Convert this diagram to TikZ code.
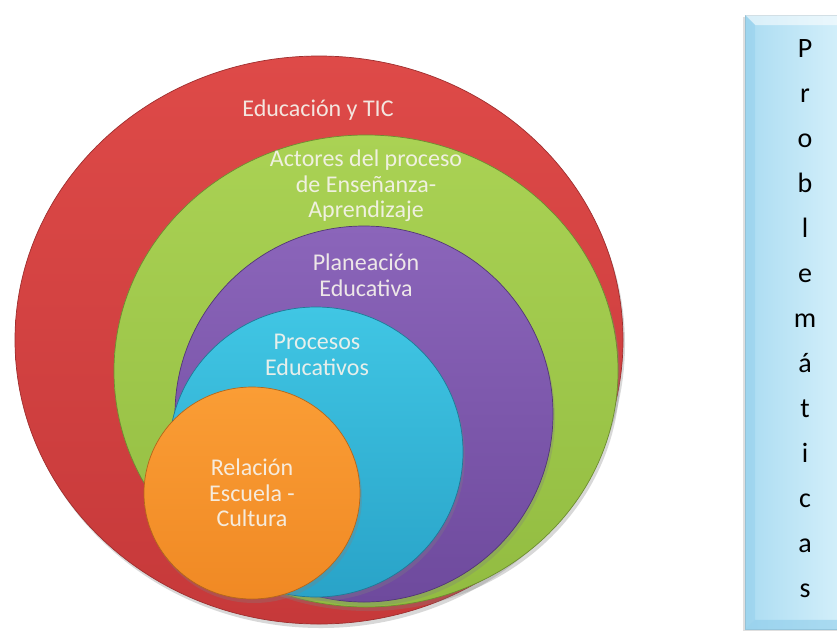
\documentclass[tikz,border=0pt]{standalone}
\usepackage{fontspec}
\setmainfont{Carlito}
\usetikzlibrary{shapes.geometric,shadows}
\definecolor{redA}{HTML}{DE4A48}
\definecolor{redB}{HTML}{C6393A}
\definecolor{grnA}{HTML}{AAD254}
\definecolor{grnB}{HTML}{92BC41}
\definecolor{purA}{HTML}{8B65BA}
\definecolor{purB}{HTML}{6E4A9D}
\definecolor{cyaA}{HTML}{40C6E4}
\definecolor{cyaB}{HTML}{29A3C8}
\definecolor{oraA}{HTML}{FA9D35}
\definecolor{oraB}{HTML}{F08924}
\definecolor{txtW}{HTML}{F6F3EC}
\definecolor{boxL}{HTML}{ABDCF2}
\definecolor{boxR}{HTML}{E2F6FD}
\definecolor{boxE}{HTML}{9DB9C6}
\definecolor{boxD}{HTML}{8FCDEB}
\tikzset{
  disc/.style={ellipse, inner sep=0pt, line width=0.7pt,
    drop shadow={opacity=0.3, shadow xshift=2pt, shadow yshift=-4pt}},
  ctext/.style={align=center, text=txtW, text opacity=0.92, inner sep=0pt,
    font=\fontsize{24}{25.5}\selectfont},
  boxletter/.style={anchor=base, inner sep=0pt,
    font=\fontsize{28}{30}\selectfont, text=black}
}
\begin{document}
\begin{tikzpicture}[x=1pt, y=-1pt]
\useasboundingbox (0,0) rectangle (837,630);
\clip (0,0) rectangle (837,630);
\fill[white] (0,0) rectangle (837,630);
% nested discs
\node[disc, minimum width=608pt, minimum height=568pt, top color=redA, bottom color=redB, draw=redB!80!black] (red) at (319,340) {};
\node[disc, minimum width=504pt, minimum height=472pt, top color=grnA, bottom color=grnB, draw=grnB!75!black] (green) at (366,371) {};
\node[disc, minimum width=378pt, minimum height=376pt, top color=purA, bottom color=purB, draw=purB!75!black] (purple) at (364,414) {};
\node[disc, minimum width=294pt, minimum height=290pt, top color=cyaA, bottom color=cyaB, draw=cyaB!75!black] (cyan) at (316,452) {};
\node[disc, minimum width=216pt, minimum height=212pt, top color=oraA, bottom color=oraB, draw=oraB!75!black] (orange) at (252,493) {};
% labels
\node[ctext] (tred) at (318,110) {Educación y TIC};
\node[ctext] (tgreen) at (366,186) {Actores del proceso\\de Enseñanza-\\Aprendizaje};
\node[ctext] (tpurple) at (366,275) {Planeación\\Educativa};
\node[ctext] (tcyan) at (317,355) {Procesos\\Educativos};
\node[ctext] (torange) at (252,493) {Relación\\Escuela -\\Cultura};
% side box
\node[rectangle, anchor=north west, minimum width=130pt, minimum height=614pt,
      left color=boxL, right color=boxR, draw=boxE, line width=0.8pt,
      drop shadow={opacity=0.25, shadow xshift=-2pt, shadow yshift=-2pt}] (box) at (745,15) {};
\fill[white, opacity=0.55] (box.north west) -- (box.north east) -- ([yshift=-10pt]box.north east) -- ([xshift=10pt,yshift=-10pt]box.north west) -- cycle;
\fill[boxD, opacity=0.45] (box.north west) -- ([xshift=10pt,yshift=-10pt]box.north west) -- ([xshift=10pt,yshift=10pt]box.south west) -- (box.south west) -- cycle;
\fill[boxD, opacity=0.6] (box.south west) -- ([xshift=10pt,yshift=10pt]box.south west) -- ([yshift=10pt]box.south east) -- (box.south east) -- cycle;
\foreach \ch [count=\i] in {P,r,o,b,l,e,m,á,t,i,c,a,s}
  \node[boxletter] (l\i) at (805,{57+45*(\i-1)}) {\ch};
\end{tikzpicture}
\end{document}
